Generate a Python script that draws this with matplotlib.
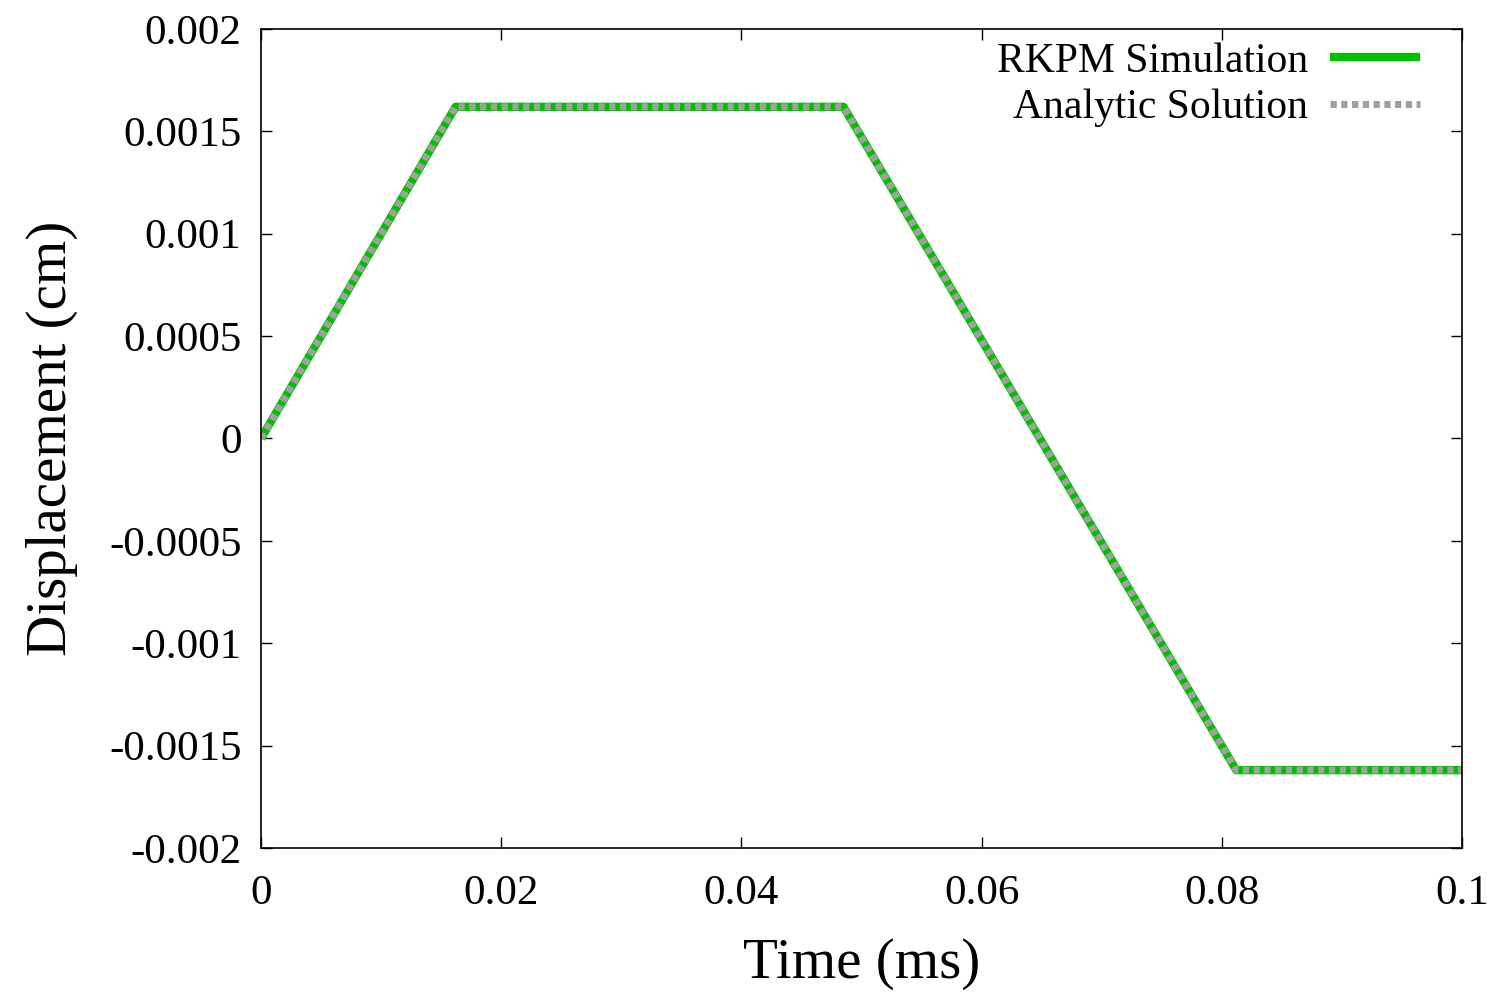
import matplotlib.pyplot as plt

# piecewise displacement history
t = [0.0, 0.0162, 0.0485, 0.0812, 0.1]
u_rkpm = [0.0, 0.00162, 0.00162, -0.00162, -0.00162]
u_exact = [0.0, 0.00162, 0.00162, -0.00162, -0.00162]

xticks = [0, 0.02, 0.04, 0.06, 0.08, 0.1]
xticklabels = ['0', '0.02', '0.04', '0.06', '0.08', '0.1']
yticks = [-0.002, -0.0015, -0.001, -0.0005, 0, 0.0005, 0.001, 0.0015, 0.002]
yticklabels = ['-0.002', '-0.0015', '-0.001', '-0.0005', '0', '0.0005', '0.001', '0.0015', '0.002']

plt.rcParams['font.family'] = ['Liberation Serif', 'DejaVu Serif']

fig = plt.figure(figsize=(15.01, 9.93), dpi=100)
ax = fig.add_axes([261 / 1501, 1 - 848 / 993, 1201 / 1501, 819 / 993])

ax.plot(t, u_rkpm, color='#00c000', lw=6.0, solid_capstyle='butt', label='RKPM Simulation')
ax.plot(t, u_exact, color='#a0a0a0', lw=5.0, linestyle=(0, (0.9, 0.65)),
        dash_capstyle='butt', label='Analytic Solution')

ax.set_xlim(0, 0.1)
ax.set_ylim(-0.002, 0.002)
ax.set_xticks(xticks)
ax.set_xticklabels(xticklabels)
ax.set_yticks(yticks)
ax.set_yticklabels(yticklabels)
ax.tick_params(direction='in', top=True, right=True, length=8, width=1, labelsize=31)
ax.tick_params(axis='x', pad=19)
ax.tick_params(axis='y', pad=14)
for s in ax.spines.values():
    s.set_linewidth(1.2)

ax.set_xlabel('Time (ms)', fontsize=41, labelpad=18)
ax.set_ylabel('Displacement (cm)', fontsize=41, labelpad=22)

ax.legend(loc='upper right', bbox_to_anchor=(0.965, 0.984), frameon=False,
          markerfirst=False, fontsize=30, handlelength=2.15, handletextpad=0.53,
          labelspacing=0.2, borderpad=0, borderaxespad=0)

fig.savefig('out.png', dpi=100)
